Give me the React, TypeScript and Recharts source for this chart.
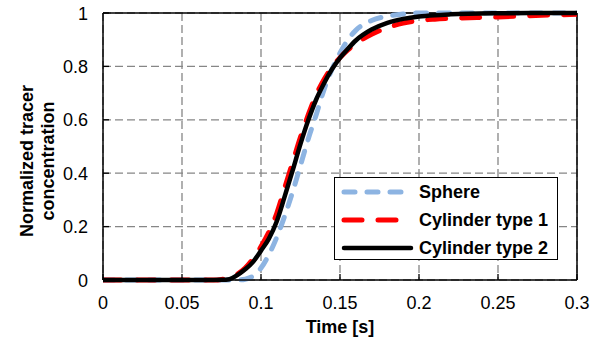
import {
  LineChart,
  Line,
  XAxis,
  YAxis,
  CartesianGrid,
  Legend,
  ReferenceLine,
} from "recharts";

const FONT = '"Liberation Sans", Arial, sans-serif';

const TIME = [
  0, 0.05, 0.07, 0.075, 0.08, 0.085, 0.09, 0.095, 0.1, 0.105, 0.11, 0.115, 0.12,
  0.125, 0.13, 0.135, 0.14, 0.145, 0.15, 0.155, 0.16, 0.17, 0.18, 0.19, 0.2,
  0.21, 0.22, 0.25, 0.27, 0.3,
];
const SPHERE = [
  0, 0, 0, 0, 0, 0, 0.003, 0.015, 0.045, 0.095, 0.16, 0.24, 0.33, 0.43, 0.53,
  0.62, 0.715, 0.79, 0.85, 0.9, 0.935, 0.972, 0.988, 0.996, 1, 1, 1, 1, 1, 1,
];
const CYL1 = [
  0, 0, 0, 0.002, 0.008, 0.022, 0.045, 0.08, 0.125, 0.18, 0.25, 0.345, 0.44,
  0.535, 0.62, 0.695, 0.752, 0.798, 0.833, 0.862, 0.885, 0.92, 0.945, 0.962,
  0.972, 0.977, 0.98, 0.985, 0.99, 0.995,
];
const CYL2 = [
  0, 0, 0, 0.0005, 0.003, 0.018, 0.04, 0.068, 0.11, 0.155, 0.22, 0.313, 0.41,
  0.51, 0.6, 0.677, 0.738, 0.79, 0.832, 0.866, 0.897, 0.938, 0.963, 0.978,
  0.987, 0.992, 0.995, 0.999, 1, 1,
];
const X_TICKS = [0, 0.05, 0.1, 0.15, 0.2, 0.25, 0.3];
const Y_TICKS = [0, 0.2, 0.4, 0.6, 0.8, 1];

const data = TIME.map((t, i) => ({
  t,
  sphere: SPHERE[i],
  cyl1: CYL1[i],
  cyl2: CYL2[i],
}));

const SERIES = [
  { key: "sphere", name: "Sphere", color: "#8DB4E2", width: 5, dash: "11 12" },
  { key: "cyl1", name: "Cylinder type 1", color: "#FF0000", width: 5, dash: "18 16" },
  { key: "cyl2", name: "Cylinder type 2", color: "#000000", width: 4.5, dash: undefined },
];

function XTick({ x, y, payload }: any) {
  return (
    <g>
      <line x1={x} y1={y} x2={x} y2={y - 6} stroke="#000" strokeWidth={1.3} />
      <text x={x} y={y + 29} textAnchor="middle" fontSize={18} fill="#000" fontFamily={FONT}>
        {payload.value}
      </text>
    </g>
  );
}

function YTick({ x, y, payload }: any) {
  return (
    <g>
      <line x1={x} y1={y} x2={x + 6} y2={y} stroke="#000" strokeWidth={1.3} />
      <text x={x - 15} y={y + 6.5} textAnchor="end" fontSize={18} fill="#000" fontFamily={FONT}>
        {payload.value}
      </text>
    </g>
  );
}

function LegendBox() {
  return (
    <div
      style={{
        width: 224,
        height: 83,
        boxSizing: "border-box",
        border: "1.5px solid #000",
        background: "#fff",
        position: "relative",
        fontFamily: FONT,
        fontWeight: "bold",
        fontSize: 18,
        color: "#000",
      }}
    >
      {SERIES.map((s, i) => (
        <div
          key={s.key}
          style={{
            position: "absolute",
            left: 0,
            top: i * 28,
            height: 28,
            display: "flex",
            alignItems: "center",
            whiteSpace: "nowrap",
          }}
        >
          <svg width={84} height={10} style={{ display: "block" }}>
            <line
              x1={9}
              y1={5}
              x2={76}
              y2={5}
              stroke={s.color}
              strokeWidth={s.width}
              strokeDasharray={s.dash}
              strokeLinecap="round"
            />
          </svg>
          <span>{s.name}</span>
        </div>
      ))}
    </div>
  );
}

export default function App() {
  return (
    <div style={{ position: "absolute", left: 0, top: 0, background: "#fff", fontFamily: FONT }}>
      <LineChart
        width={599}
        height={343}
        data={data}
        margin={{ top: 13, right: 22, bottom: 13, left: 63 }}
      >
        <CartesianGrid stroke="#868686" strokeWidth={1.3} strokeDasharray="8 4" />
        <XAxis
          dataKey="t"
          type="number"
          domain={[0, 0.3]}
          ticks={X_TICKS}
          allowDataOverflow
          height={50}
          tickSize={0}
          tickMargin={0}
          tickLine={false}
          axisLine={{ stroke: "#000", strokeWidth: 1.5 }}
          tick={<XTick />}
          label={{
            content: () => (
              <text x={340} y={333} textAnchor="middle" fontSize={18} fontWeight="bold" fontFamily={FONT} fill="#000">
                Time [s]
              </text>
            ),
          }}
        />
        <YAxis
          type="number"
          domain={[0, 1]}
          ticks={Y_TICKS}
          width={40}
          tickSize={0}
          tickMargin={0}
          tickLine={false}
          axisLine={{ stroke: "#000", strokeWidth: 1.5 }}
          tick={<YTick />}
          label={{
            content: () => (
              <g fontSize={18} fontWeight="bold" fontFamily={FONT} fill="#000">
                <text transform="translate(33,161) rotate(-90)" textAnchor="middle">
                  Normalized tracer
                </text>
                <text transform="translate(54,161) rotate(-90)" textAnchor="middle">
                  concentration
                </text>
              </g>
            ),
          }}
        />
        <ReferenceLine y={1} stroke="#000" strokeWidth={1.5} />
        <ReferenceLine x={0.3} stroke="#000" strokeWidth={1.5} />
        {SERIES.map((s) => (
          <Line
            key={s.key}
            dataKey={s.key}
            name={s.name}
            type="monotone"
            stroke={s.color}
            strokeWidth={s.width}
            strokeDasharray={s.dash}
            strokeLinecap="round"
            dot={false}
            activeDot={false}
            isAnimationActive={false}
          />
        ))}
        <Legend
          layout="horizontal"
          verticalAlign="middle"
          align="center"
          content={() => <LegendBox />}
          wrapperStyle={{ left: 334, top: 177, width: 224, height: 83 }}
        />
      </LineChart>
    </div>
  );
}
